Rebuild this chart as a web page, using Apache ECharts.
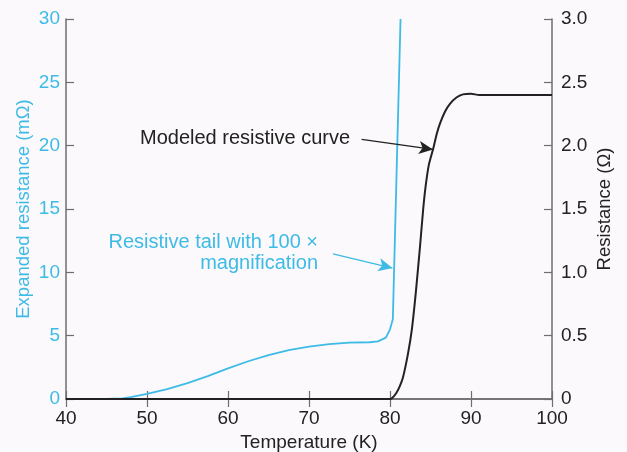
<!DOCTYPE html>
<html><head><meta charset="utf-8">
<script src="https://cdn.jsdelivr.net/npm/echarts@6/dist/echarts.min.js"></script>
<style>html,body{margin:0;padding:0;background:#fbf9fb;}#c{width:627px;height:452px;}</style>
</head><body><div id="c"></div>
<script>
// Data
var tempTail = [40, 45, 47, 48, 50, 52.5, 55, 57.5, 60, 62.5, 65, 67.5, 70, 72.5, 75, 77.5, 78.5, 79.5, 80.0, 80.35, 81.3];
var tailValues = [0, 0, 0.05, 0.15, 0.4, 0.78, 1.25, 1.8, 2.42, 2.98, 3.47, 3.85, 4.13, 4.33, 4.45, 4.48, 4.55, 4.84, 5.5, 6.3, 30];
var tempModel = [40, 80, 80.3, 80.8, 81.2, 81.6, 82.2, 82.7, 83.2, 83.7, 84.1, 84.4, 84.8, 85.35, 85.8, 86.2, 86.8, 87.4, 88.2, 89, 90, 91, 100];
var modelValues = [0, 0, 0.01, 0.05, 0.1, 0.17, 0.35, 0.55, 0.85, 1.2, 1.5, 1.68, 1.85, 1.98, 2.1, 2.18, 2.27, 2.33, 2.38, 2.405, 2.41, 2.4, 2.4];
var xTicks = [40, 50, 60, 70, 80, 90, 100];
var leftTicks = [0, 5, 10, 15, 20, 25, 30];
var rightTicks = ['0', '0.5', '1.0', '1.5', '2.0', '2.5', '3.0'];
// annotation arrows (data coordinates)
var modelArrow = [[76.5, 2.05], [85.3, 1.97]];
var tailArrow = [[72.96, 11.45], [80.3, 10.34]];

var BLUE = '#3dbbe6', DARK = '#222222', AXIS = '#6e6e6e';
var FONT = 'Liberation Sans, Arial, Helvetica, sans-serif';

function zip(a, b) { return a.map(function (v, i) { return [v, b[i]]; }); }

var chart = echarts.init(document.getElementById('c'));
chart.setOption({
  backgroundColor: '#fbf9fb',
  animation: false,
  grid: { left: 66, right: 75, top: 19, bottom: 53, containLabel: false, outerBoundsMode: 'none' },
  xAxis: [{
    type: 'value', min: 40, max: 100, interval: 10, position: 'bottom',
    name: 'Temperature (K)', nameLocation: 'middle', nameGap: 34, nameMoveOverlap: false,
    nameTextStyle: { color: DARK, fontSize: 19, fontFamily: FONT },
    axisLine: { lineStyle: { color: AXIS, width: 1.5 } },
    axisTick: { inside: true, length: 8, lineStyle: { color: AXIS, width: 1.2 } },
    axisLabel: { color: DARK, fontSize: 19, fontFamily: FONT, margin: 10,
      formatter: function (v) { return xTicks.indexOf(v) >= 0 ? String(v) : ''; } },
    splitLine: { show: false }
  }, {
    type: 'value', min: 40, max: 100, interval: 10, position: 'top',
    axisLine: { lineStyle: { color: AXIS, width: 1.5 } },
    axisTick: { inside: true, length: 8, lineStyle: { color: AXIS, width: 1.2 } },
    axisLabel: { show: false }, splitLine: { show: false }
  }],
  yAxis: [{
    type: 'value', min: 0, max: 30, interval: 5, position: 'left',
    name: 'Expanded resistance (m\u03A9)', nameLocation: 'middle', nameGap: 33, nameMoveOverlap: false,
    nameTextStyle: { color: BLUE, fontSize: 18.5, fontFamily: FONT },
    axisLine: { show: true, lineStyle: { color: AXIS, width: 1.5 } },
    axisTick: { show: true, inside: true, length: 8, lineStyle: { color: AXIS, width: 1.2 } },
    axisLabel: { color: BLUE, fontSize: 19, fontFamily: FONT, margin: 6,
      formatter: function (v) { return leftTicks.indexOf(v) >= 0 ? String(v) : ''; } },
    splitLine: { show: false }
  }, {
    type: 'value', min: 0, max: 3, interval: 0.5, position: 'right',
    name: 'Resistance (\u03A9)', nameLocation: 'middle', nameGap: 43, nameMoveOverlap: false,
    nameTextStyle: { color: DARK, fontSize: 18.5, fontFamily: FONT },
    axisLine: { show: true, lineStyle: { color: AXIS, width: 1.5 } },
    axisTick: { show: true, inside: true, length: 8, lineStyle: { color: AXIS, width: 1.2 } },
    axisLabel: { color: DARK, fontSize: 19, fontFamily: FONT, margin: 9,
      formatter: function (v) { return rightTicks[Math.round(v / 0.5)]; } },
    splitLine: { show: false }
  }],
  series: [{
    name: 'Resistive tail with 100 \u00D7 magnification',
    type: 'line', xAxisIndex: 0, yAxisIndex: 0, data: zip(tempTail, tailValues),
    showSymbol: false, smooth: false, clip: true,
    lineStyle: { color: BLUE, width: 1.8 }, z: 3,
    markLine: {
      silent: true, symbol: ['none', 'arrow'], symbolSize: [10, 14],
      label: { show: false },
      lineStyle: { color: BLUE, width: 1.3, type: 'solid' },
      data: [[{ coord: tailArrow[0] }, { coord: tailArrow[1] }]]
    }
  }, {
    name: 'Modeled resistive curve',
    type: 'line', xAxisIndex: 0, yAxisIndex: 1, data: zip(tempModel, modelValues),
    showSymbol: false, smooth: 0.2,
    lineStyle: { color: DARK, width: 2 }, z: 4,
    markLine: {
      silent: true, symbol: ['none', 'arrow'], symbolSize: [10, 14],
      label: { show: false },
      lineStyle: { color: DARK, width: 1.3, type: 'solid' },
      data: [[{ coord: modelArrow[0] }, { coord: modelArrow[1] }]]
    }
  }],
  graphic: [{
    type: 'text', left: 140, top: 128,
    style: { text: 'Modeled resistive curve', fill: DARK, fontSize: 20, fontFamily: FONT }
  }, {
    type: 'text', x: 318, y: 253,
    style: { text: 'Resistive tail with 100 \u00D7\nmagnification', fill: BLUE, fontSize: 20,
      fontFamily: FONT, align: 'right', verticalAlign: 'middle', lineHeight: 21 }
  }]
});
</script></body></html>
